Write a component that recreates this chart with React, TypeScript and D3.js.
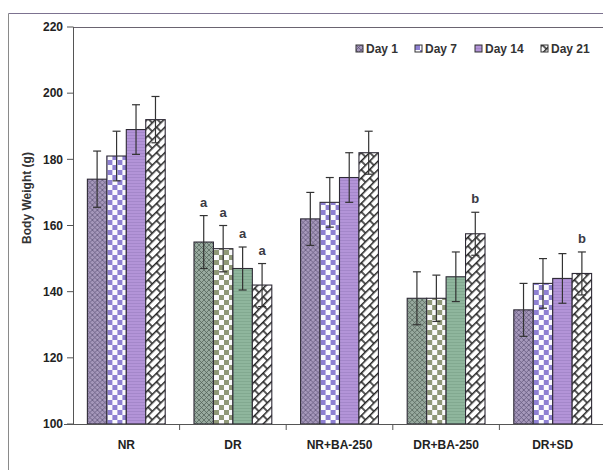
import React from "react";
import * as d3 from "d3";

// groups on the x axis
const groups = ["NR", "DR", "NR+BA-250", "DR+BA-250", "DR+SD"];
const days = ["Day 1", "Day 7", "Day 14", "Day 21"];

// mean body weight (g) per group, one array per day
const day1 = [174, 155, 162, 138, 134.5];
const day7 = [181, 153, 167, 138, 142.5];
const day14 = [189, 147, 174.5, 144.5, 144];
const day21 = [192, 142, 182, 157.5, 145.5];

// standard deviations
const sd1 = [8.5, 8, 8, 8, 8];
const sd7 = [7.5, 7, 7.5, 7, 7.5];
const sd14 = [7.5, 6.5, 7.5, 7.5, 7.5];
const sd21 = [7, 6.5, 6.5, 6.5, 6.5];

// significance letters above bars
const letters = [
  { group: "DR", day: "Day 1", text: "a" },
  { group: "DR", day: "Day 7", text: "a" },
  { group: "DR", day: "Day 14", text: "a" },
  { group: "DR", day: "Day 21", text: "a" },
  { group: "DR+BA-250", day: "Day 21", text: "b" },
  { group: "DR+SD", day: "Day 21", text: "b" },
];

const yTicks = [100, 120, 140, 160, 180, 200, 220];

// scan tint per group (the print came out green on some groups)
const groupTone = ["p", "g", "p", "g", "p"];

const means = [day1, day7, day14, day21];
const sds = [sd1, sd7, sd14, sd21];

const W = 603;
const H = 470;
const FONT = "Arial, 'Liberation Sans', sans-serif";

function Patterns() {
  return (
    <defs>
      {/* Day 1: diamond mesh */}
      {[
        ["d1p", "#a698bb", "#5c5075"],
        ["d1g", "#98aa9f", "#4f5f55"],
      ].map(([id, bg, fg]) => (
        <pattern key={id} id={id} width={5} height={5} patternUnits="userSpaceOnUse">
          <rect width={5} height={5} fill={bg} />
          <path d="M0,0L5,5M5,0L0,5" stroke={fg} strokeWidth={0.7} />
        </pattern>
      ))}
      {/* Day 7: checkerboard */}
      {[
        ["d7p", "#8e80d2"],
        ["d7g", "#8f9878"],
      ].map(([id, c]) => (
        <pattern key={id} id={id} width={10} height={10} patternUnits="userSpaceOnUse">
          <rect width={10} height={10} fill="#fbfbfd" />
          <rect width={5} height={5} fill={c} />
          <rect x={5} y={5} width={5} height={5} fill={c} />
        </pattern>
      ))}
      {/* Day 14: near solid */}
      {[
        ["d14p", "#b394d8", "#a487ca"],
        ["d14g", "#8fb69d", "#82a990"],
      ].map(([id, c, c2]) => (
        <pattern key={id} id={id} width={3} height={3} patternUnits="userSpaceOnUse">
          <rect width={3} height={3} fill={c} />
          <rect width={3} height={1} fill={c2} />
        </pattern>
      ))}
      {/* Day 21: diagonal brick lattice */}
      <pattern
        id="d21"
        width={12}
        height={12}
        patternUnits="userSpaceOnUse"
        patternTransform="rotate(-45)"
      >
        <rect width={12} height={12} fill="#ffffff" />
        <path d="M0,0.8H12M0,6.8H12M1,0.8V6.8M7,6.8V12.8" stroke="#222" strokeWidth={1.5} />
      </pattern>
    </defs>
  );
}

function fillFor(dayIdx: number, tone: string) {
  if (dayIdx === 3) return "url(#d21)";
  const base = ["d1", "d7", "d14"][dayIdx];
  return `url(#${base}${tone})`;
}

export default function App() {
  const x0 = d3
    .scaleBand<string>()
    .domain(groups)
    .range([73, 606])
    .paddingInner(0.27)
    .paddingOuter(0.135);
  const x1 = d3.scaleBand<string>().domain(days).range([0, x0.bandwidth()]);
  const y = d3.scaleLinear().domain([100, 220]).range([424, 27]);

  const step = x0.step();
  const boundaries = groups.slice(1).map((g) => (x0(g) as number) - step * 0.135);

  return (
    <svg
      width={W}
      height={H}
      style={{ position: "absolute", left: 0, top: 0, background: "#fff" }}
      fontFamily={FONT}
    >
      <Patterns />
      {/* outer frame from the scan */}
      <line x1={8.5} x2={W} y1={13.5} y2={13.5} stroke="#7c7290" strokeWidth={1} />
      <line x1={8.5} x2={8.5} y1={13.5} y2={H} stroke="#8a8a8a" strokeWidth={1} />
      {/* plot top border */}
      <line x1={73} x2={W} y1={27.5} y2={27.5} stroke="#6a6470" strokeWidth={1} />

      {/* bars */}
      {groups.map((g, gi) => (
        <g key={g} transform={`translate(${x0(g)},0)`}>
          {days.map((d, di) => (
            <rect
              key={d}
              x={x1(d)}
              y={y(means[di][gi])}
              width={x1.bandwidth()}
              height={y(100) - y(means[di][gi])}
              fill={fillFor(di, groupTone[gi])}
              stroke="#2e2a36"
              strokeWidth={1.1}
            />
          ))}
          {days.map((d, di) => {
            const cx = (x1(d) as number) + x1.bandwidth() / 2;
            const hi = y(means[di][gi] + sds[di][gi]);
            const lo = y(means[di][gi] - sds[di][gi]);
            return (
              <g key={d} stroke="#333" strokeWidth={1.2}>
                <line x1={cx} x2={cx} y1={hi} y2={lo} />
                <line x1={cx - 4} x2={cx + 4} y1={hi} y2={hi} />
                <line x1={cx - 4} x2={cx + 4} y1={lo} y2={lo} />
              </g>
            );
          })}
        </g>
      ))}

      {/* letters */}
      {letters.map((l, i) => {
        const gi = groups.indexOf(l.group);
        const di = days.indexOf(l.day);
        const cx = (x0(l.group) as number) + (x1(l.day) as number) + x1.bandwidth() / 2;
        return (
          <text
            key={i}
            x={cx}
            y={y(means[di][gi] + sds[di][gi]) - 9}
            textAnchor="middle"
            fontSize={13}
            fontWeight="bold"
            fill="#3a3a44"
          >
            {l.text}
          </text>
        );
      })}

      {/* y axis */}
      <line x1={73.5} x2={73.5} y1={27} y2={424} stroke="#555" strokeWidth={1} />
      {yTicks.map((t) => (
        <g key={t}>
          <line x1={67} x2={73.5} y1={y(t)} y2={y(t)} stroke="#555" />
          <text
            x={63}
            y={y(t)}
            dy="0.35em"
            textAnchor="end"
            fontSize={12}
            fontWeight="bold"
            fill="#222"
          >
            {t}
          </text>
        </g>
      ))}
      <text
        transform={`translate(31,198) rotate(-90)`}
        textAnchor="middle"
        fontSize={12}
        fontWeight="bold"
        fill="#333"
      >
        Body Weight (g)
      </text>

      {/* x axis */}
      <line x1={64} x2={W} y1={424.5} y2={424.5} stroke="#555" strokeWidth={1.2} />
      {boundaries.map((bx, i) => (
        <line key={i} x1={bx} x2={bx} y1={424.5} y2={430} stroke="#555" />
      ))}
      {groups.map((g) => (
        <text
          key={g}
          x={(x0(g) as number) + x0.bandwidth() / 2}
          y={449}
          textAnchor="middle"
          fontSize={12}
          fontWeight="bold"
          fill="#222"
        >
          {g}
        </text>
      ))}

      {/* legend */}
      {days.map((d, di) => {
        const lx = [356, 415, 475, 541][di];
        return (
          <g key={d} transform={`translate(${lx},45)`}>
            <rect width={7} height={7} fill={fillFor(di, "p")} stroke="#333" strokeWidth={1} />
            <text x={10} y={7.5} fontSize={12} fontWeight="bold" fill="#333">
              {d}
            </text>
          </g>
        );
      })}
    </svg>
  );
}
